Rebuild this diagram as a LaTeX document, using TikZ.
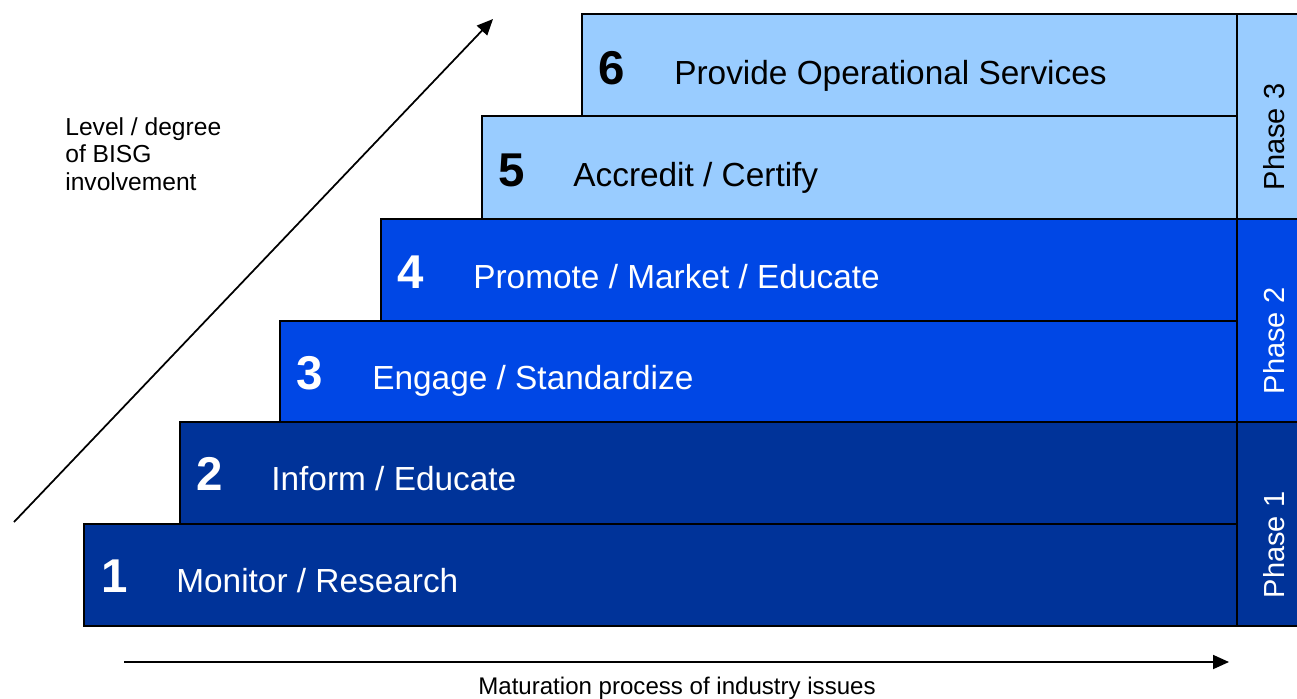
\documentclass[tikz,border=0pt]{standalone}
\usepackage{fontspec}
\setmainfont{Liberation Sans}
\usetikzlibrary{arrows.meta}
\definecolor{bluedark}{HTML}{003399}
\definecolor{bluemid}{HTML}{0047E5}
\definecolor{bluelight}{HTML}{99CCFF}
\tikzset{
  stepbar/.style={draw=black,line width=1.1pt},
  stepnum/.style={font=\fontsize{27}{30}\selectfont\bfseries,inner sep=0pt,anchor=base},
  steplabel/.style={font=\fontsize{19}{23}\selectfont,inner sep=0pt,anchor=base west},
  phaselabel/.style={font=\fontsize{16.5}{20}\selectfont,inner sep=0pt,rotate=90},
  note/.style={font=\fontsize{14}{15.6}\selectfont,inner sep=0pt,align=left},
  axisarrow/.style={line width=1pt,-{Triangle[length=0.32cm,width=0.28cm]}},
}
\begin{document}
\begin{tikzpicture}[x=0.02cm,y=-0.02cm]
\useasboundingbox (0,0) rectangle (1297,698);
\clip (0,0) rectangle (1297,698);
\fill[white] (0,0) rectangle (1297,698);
% staircase of steps
\draw[stepbar,fill=bluelight] (582,14) rectangle (1237,116);
\draw[stepbar,fill=bluelight] (482,116) rectangle (1237,219);
\draw[stepbar,fill=bluemid] (381,219) rectangle (1237,321);
\draw[stepbar,fill=bluemid] (280,321) rectangle (1237,422);
\draw[stepbar,fill=bluedark] (180,422) rectangle (1237,524);
\draw[stepbar,fill=bluedark] (84,524) rectangle (1237,626);
% phase column
\draw[stepbar,fill=bluelight] (1237,14) rectangle (1320,219);
\draw[stepbar,fill=bluemid] (1237,219) rectangle (1320,422);
\draw[stepbar,fill=bluedark] (1237,422) rectangle (1320,626);
% step texts
\node[stepnum] (num6) at (612,84) {6};
\node[steplabel] (lab6) at (674,84) {Provide Operational Services};
\node[stepnum] (num5) at (512,186) {5};
\node[steplabel] (lab5) at (573,186) {Accredit / Certify};
\node[stepnum,white] (num4) at (411,288) {4};
\node[steplabel,white] (lab4) at (473,288) {Promote / Market / Educate};
\node[stepnum,white] (num3) at (310,389) {3};
\node[steplabel,white] (lab3) at (372,389) {Engage / Standardize};
\node[stepnum,white] (num2) at (210,490) {2};
\node[steplabel,white] (lab2) at (271,490) {Inform / Educate};
\node[stepnum,white] (num1) at (115,592) {1};
\node[steplabel,white] (lab1) at (176,592) {Monitor / Research};
% phases
\node[phaselabel] (ph3) at (1274,137) {Phase 3};
\node[phaselabel,white] (ph2) at (1274,341) {Phase 2};
\node[phaselabel,white] (ph1) at (1274,545) {Phase 1};
% axes
\coordinate (upstart) at (14,522);
\coordinate (upend) at (493,19);
\coordinate (rightstart) at (124,662);
\coordinate (rightend) at (1229,662);
\draw[axisarrow] (upstart) -- (upend);
\draw[axisarrow] (rightstart) -- (rightend);
\node[note,anchor=north west] (level) at (65,117) {Level / degree\\of BISG\\involvement};
\node[note,font=\fontsize{13.7}{15}\selectfont,anchor=base] (maturation) at (677,694) {Maturation process of industry issues};
\end{tikzpicture}
\end{document}
